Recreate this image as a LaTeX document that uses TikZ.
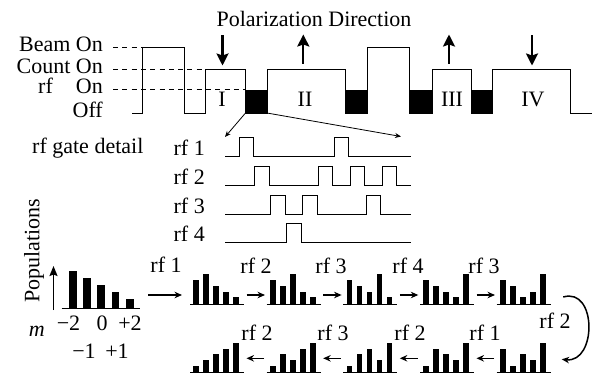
\documentclass[tikz,border=0pt]{standalone}
\usepackage{fontspec}
\setmainfont{Liberation Serif}
\newfontfamily\labelfont{Liberation Serif}
\usetikzlibrary{arrows.meta}

% bars of one population chart: node name, then five populations (m=-2..+2)
\newcommand\popchart[6]{%
  \draw[axisline] (#1.south west) -- (#1.south east);
  \foreach \v [count=\i from 0] in {#2,#3,#4,#5,#6}
    \fill ([xshift=3.3pt+10pt*\i]#1.south west) rectangle ++(5.5,{-(5.75*\v+1)});
}

\begin{document}
\begin{tikzpicture}[x=1pt,y=-1pt,
  every node/.style={font=\labelfont\fontsize{22}{26}\selectfont, inner sep=0pt},
  wave/.style={line width=1pt},
  guide/.style={line width=0.9pt, dash pattern=on 5pt off 4.3pt},
  pol/.style={line width=2.3pt, -{Stealth[length=12pt,width=12pt,inset=2pt]}},
  zoomline/.style={line width=0.8pt, -{Stealth[length=6pt,width=5pt]}},
  flow/.style={line width=1.3pt, -{Stealth[length=7.5pt,width=6.5pt]}},
  axisline/.style={line width=0.9pt},
  chart/.style={minimum width=54pt, minimum height=18pt, inner sep=0pt, outer sep=0pt},
  lowchart/.style={chart, minimum height=28.8pt},
]
\useasboundingbox (0,0) rectangle (597,375);

% ---------- timing diagram ----------
\node[anchor=base] (poltitle) at (314,26.5) {Polarization Direction};

\node[anchor=base east] (lbeam)  at (103,51.7) {Beam On};
\node[anchor=base east] (lcount) at (103,73)   {Count On};
\node[anchor=base east] (lon)    at (103,93.5) {On};
\node[anchor=base west] (lrf)    at (38,93.5)  {rf};
\node[anchor=base east] (loff)   at (103,117)  {Off};

\draw[guide] (113,47.7) -- (142,47.7);
\draw[guide] (113,69) -- (205,69);
\draw[guide] (113,89.5) -- (245.5,89.5);

% rf-on intervals
\foreach \a/\b in {245.5/267, 345/367, 409/432, 471/492}
  \fill (\a,89.5) rectangle (\b,113);

\draw[wave] (132,113) -- (142,113) -- (142,47.7) -- (184,47.7) -- (184,113)
  -- (205,113) -- (205,69) -- (245.5,69) -- (245.5,113) -- (267,113)
  -- (267,69) -- (345,69) -- (345,113) -- (367,113) -- (367,47.7)
  -- (409,47.7) -- (409,113) -- (432,113) -- (432,69) -- (471,69)
  -- (471,113) -- (492,113) -- (492,69) -- (570,69) -- (570,113) -- (592,113);

\node[anchor=base] (pI)   at (222,106.7) {I};
\node[anchor=base] (pII)  at (305,106.7) {II};
\node[anchor=base] (pIII) at (452,106.7) {III};
\node[anchor=base] (pIV)  at (533,106.7) {IV};

\draw[pol] (222.5,35) -- (222.5,65.5);
\draw[pol] (303.3,63.5) -- (303.3,34.5);
\draw[pol] (449,63.5) -- (449,34.5);
\draw[pol] (532,35) -- (532,65.5);

% zoom onto the first rf interval
\coordinate (boxL) at (245.5,113);
\coordinate (boxR) at (267,113);
\coordinate (zoomL) at (225,137);
\coordinate (zoomR) at (401,136.5);
\draw[zoomline] (boxL) -- (zoomL);
\draw[zoomline] (boxR) -- (zoomR);

% ---------- rf gate detail ----------
\node[anchor=base west] (gdetail) at (32,153.3) {rf gate detail};
\node[anchor=base east] (g1) at (205,155.7) {rf 1};
\node[anchor=base east] (g2) at (205,184.3) {rf 2};
\node[anchor=base east] (g3) at (205,213)   {rf 3};
\node[anchor=base east] (g4) at (205,241.7) {rf 4};

\def\ph{-19}
\def\pw{14.3}
\draw[wave] (225,156.7) -- (239,156.7) -- ++(0,\ph) -- ++(\pw,0) -- ++(0,19)
  -- (334.5,156.7) -- ++(0,\ph) -- ++(\pw,0) -- ++(0,19) -- (410.7,156.7);
\draw[wave] (225,185.3) -- (254.9,185.3) -- ++(0,\ph) -- ++(\pw,0) -- ++(0,19)
  -- (318.6,185.3) -- ++(0,\ph) -- ++(\pw,0) -- ++(0,19)
  -- (350.4,185.3) -- ++(0,\ph) -- ++(\pw,0) -- ++(0,19)
  -- (382.3,185.3) -- ++(0,\ph) -- ++(\pw,0) -- ++(0,19) -- (410.7,185.3);
\draw[wave] (225,214) -- (270.8,214) -- ++(0,\ph) -- ++(\pw,0) -- ++(0,19)
  -- (302.7,214) -- ++(0,\ph) -- ++(\pw,0) -- ++(0,19)
  -- (366.4,214) -- ++(0,\ph) -- ++(\pw,0) -- ++(0,19) -- (410.7,214);
\draw[wave] (225,242.7) -- (286.8,242.7) -- ++(0,\ph) -- ++(\pw,0) -- ++(0,19)
  -- (410.7,242.7);

% ---------- populations ----------
\node[rotate=90] (poplabel) at (34,250.5) {Populations};
\coordinate (popbase) at (53.5,310);
\coordinate (poptop) at (53.5,266);
\draw[line width=1.6pt, -{Stealth[length=10pt,width=8pt,inset=1.5pt]}] (popbase) -- (poptop);

\node[chart, minimum width=78.3pt, minimum height=26.6pt] (ch0) at (100.85,295) {};
\draw[axisline] (ch0.south west) -- (ch0.south east);
\foreach \o/\h in {7.6/37.6, 21.6/30.3, 35.6/23.6, 50/16, 64.3/9}
  \fill ([xshift=\o pt]ch0.south west) rectangle ++(7.5,-\h);

\node[anchor=base] (mlab) at (36.7,336.7) {\itshape m};
\node[anchor=base] (mm2) at (68.5,330.7) {−2};
\node[anchor=base] (m0)  at (102,330.7)  {0};
\node[anchor=base] (mp2) at (130,330.7)  {+2};
\node[anchor=base] (mm1) at (84,358)     {−1};
\node[anchor=base] (mp1) at (117,358)    {+1};

% top row, left to right
\node[chart] (ch1) at (217,295) {};
\node[chart] (ch2) at (293.7,295) {};
\node[chart] (ch3) at (370.3,295) {};
\node[chart] (ch4) at (447,295) {};
\node[chart] (ch5) at (523.7,295) {};
% bottom row, right to left
\node[lowchart] (ch6)  at (523.7,358.3) {};
\node[lowchart] (ch7)  at (447,358.3) {};
\node[lowchart] (ch8)  at (370.3,358.3) {};
\node[lowchart] (ch9)  at (293.7,358.3) {};
\node[lowchart] (ch10) at (217,358.3) {};

\popchart{ch1}{4}{5}{3}{2}{1}
\popchart{ch2}{4}{3}{5}{2}{1}
\popchart{ch3}{4}{3}{2}{5}{1}
\popchart{ch4}{4}{3}{2}{1}{5}
\popchart{ch5}{4}{3}{1}{2}{5}
\popchart{ch6}{4}{1}{3}{2}{5}
\popchart{ch7}{1}{4}{3}{2}{5}
\popchart{ch8}{1}{3}{4}{2}{5}
\popchart{ch9}{1}{3}{2}{4}{5}
\popchart{ch10}{1}{2}{3}{4}{5}

\draw[flow, shorten <=8pt, shorten >=8pt] (ch0.east) -- (ch1.west);
\foreach \a/\b in {ch1/ch2, ch2/ch3, ch3/ch4, ch4/ch5}
  \draw[flow, shorten <=2.5pt, shorten >=1.7pt] (\a.east) -- (\b.west);
\foreach \a/\b in {ch6/ch7, ch7/ch8, ch8/ch9, ch9/ch10}
  \draw[flow, shorten <=2.5pt, shorten >=2.5pt] (\a.west) -- (\b.east);
\draw[flow, line width=1.5pt] ([xshift=12.5pt,yshift=-2pt]ch5.east) .. controls (597,287) and (597,363) .. ([xshift=11pt,yshift=-1pt]ch6.east);

\node[anchor=base] (t1) at (166,272) {rf 1};
\node[anchor=base] (t2) at (256,273) {rf 2};
\node[anchor=base] (t3) at (331,273) {rf 3};
\node[anchor=base] (t4) at (408,273) {rf 4};
\node[anchor=base] (t5) at (484,273) {rf 3};
\node[anchor=base] (t6) at (555,328) {rf 2};
\node[anchor=base] (b1) at (485,340) {rf 1};
\node[anchor=base] (b2) at (410,340) {rf 2};
\node[anchor=base] (b3) at (333,340) {rf 3};
\node[anchor=base] (b4) at (257,340) {rf 2};
\end{tikzpicture}
\end{document}
